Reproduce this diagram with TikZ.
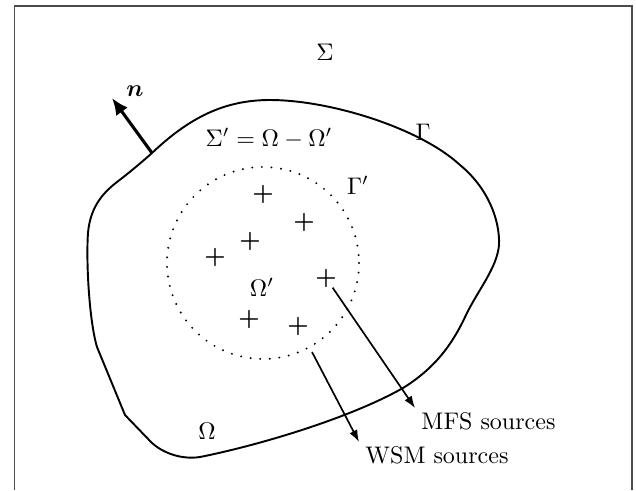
\documentclass[tikz,border=0pt]{standalone}
\usepackage{amsmath,amssymb}
\usepackage{tikz}
\usetikzlibrary{arrows.meta,positioning}

\begin{document}
\begin{tikzpicture}[
  x=0.4166pt, y=-0.4166pt,
  bound/.style={line width=0.8pt},
  inner/.style={line width=0.9pt, dash pattern=on 0pt off 4pt, line cap=round},
  src/.style={inner sep=0pt, font=\bfseries},
  arrow/.style={-{Latex[length=5pt,width=3.6pt]}, line width=0.7pt},
  normal/.style={-{Latex[length=7pt,width=6pt]}, line width=1.3pt},
  lbl/.style={anchor=north west, inner xsep=2.5pt, inner ysep=1.5pt}
]
\useasboundingbox (0,0) rectangle (636,490);
\draw[black!70, line width=0.5pt] (14.7,490) -- (14.7,6) -- (632,6) -- (632,490);

% outer boundary Gamma
\draw[bound] (152,153) .. controls (190,117) and (225,100) .. (270,100)
  .. controls (330,100) and (420,128) .. (460,165)
  .. controls (488,188) and (500,220) .. (499,245)
  .. controls (497,268) and (478,290) .. (466,315)
  .. controls (452,345) and (435,368) .. (403,388)
  .. controls (350,418) and (260,445) .. (200,457)
  .. controls (180,460) and (162,452) .. (152,443)
  -- (125,415) -- (97,347)
  .. controls (89,320) and (86,260) .. (88,233)
  .. controls (90,210) and (100,195) .. (117,182)
  .. controls (130,172) and (142,162) .. (152,153) -- cycle;

% normal vector
\coordinate (nfoot) at (152,153);
\coordinate (nhead) at (112,98);
\draw[normal] (nfoot) -- (nhead);
\node (nlab) at (135,91) {$\boldsymbol{n}$};

% inner boundary Gamma'
\coordinate (gc) at (263,263);
\draw[inner] (gc) circle[radius=96];

% sources
\node[src] (s1) at (263,194) {+};
\node[src] (s2) at (304,222) {+};
\node[src] (s3) at (250,241) {+};
\node[src] (s4) at (215,257) {+};
\node[src] (s5) at (326,278) {+};
\node[src] (s6) at (249,319) {+};
\node[src] (s7) at (298,326) {+};

% labels
\node (sig) at (325,52) {$\Sigma$};
\node (gam) at (423,132) {$\Gamma$};
\node (gamp) at (358,185) {$\Gamma'$};
\node (sigp) at (269,138) {$\Sigma' = \Omega - \Omega'$};
\node (omp) at (262,287) {$\Omega'$};
\node (om) at (207,431) {$\Omega$};

\node[lbl] (mfs) at (415,408) {MFS sources};
\node[lbl] (wsm) at (359,442) {WSM sources};

\coordinate (wfoot) at (312,352);
\draw[arrow] (s5) -- (mfs.north west);
\draw[arrow] (wfoot) -- (wsm.north west);
\end{tikzpicture}
\end{document}
